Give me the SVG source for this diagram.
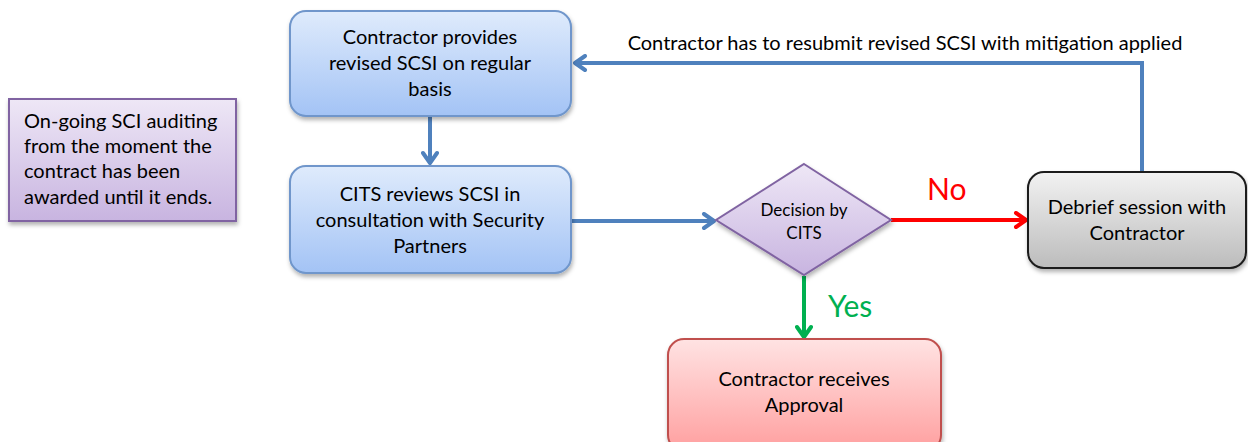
<svg xmlns="http://www.w3.org/2000/svg" width="1248" height="442" viewBox="0 0 1248 442">
<defs>
<linearGradient id="gBlue" x1="0" y1="0" x2="0" y2="1"><stop offset="0" stop-color="#dfebfc"/><stop offset="1" stop-color="#a3c3f5"/></linearGradient>
<linearGradient id="gPurple" x1="0" y1="0" x2="0" y2="1"><stop offset="0" stop-color="#eee7f6"/><stop offset="1" stop-color="#c8b4e0"/></linearGradient>
<linearGradient id="gGray" x1="0" y1="0" x2="0" y2="1"><stop offset="0" stop-color="#f2f2f2"/><stop offset="1" stop-color="#bcbcbc"/></linearGradient>
<linearGradient id="gRed" x1="0" y1="0" x2="0" y2="1"><stop offset="0" stop-color="#ffe3e3"/><stop offset="1" stop-color="#ff9f9f"/></linearGradient>
<filter id="sh" x="-10%" y="-10%" width="130%" height="140%"><feDropShadow dx="1" dy="3" stdDeviation="2" flood-color="#000" flood-opacity="0.3"/></filter>
<marker id="aBlue" markerUnits="userSpaceOnUse" markerWidth="18" markerHeight="18" refX="13" refY="9" orient="auto"><path d="M3,2 L13,9 L3,16" fill="none" stroke="#4f81bd" stroke-width="4" stroke-linecap="round" stroke-linejoin="round"/></marker>
<marker id="aRed" markerUnits="userSpaceOnUse" markerWidth="18" markerHeight="18" refX="13" refY="9" orient="auto"><path d="M3,2 L13,9 L3,16" fill="none" stroke="#ff0000" stroke-width="4" stroke-linecap="round" stroke-linejoin="round"/></marker>
<marker id="aGreen" markerUnits="userSpaceOnUse" markerWidth="18" markerHeight="18" refX="13" refY="9" orient="auto"><path d="M3,2 L13,9 L3,16" fill="none" stroke="#00b050" stroke-width="4" stroke-linecap="round" stroke-linejoin="round"/></marker>
<style>
text{font-family:Lato,"Liberation Sans",sans-serif;font-size:20px;fill:#000}
.c{text-anchor:middle}
.blue{fill:url(#gBlue);stroke:#6f96cb;stroke-width:2}
.purple{fill:url(#gPurple);stroke:#8064a2;stroke-width:2}
.gray{fill:url(#gGray);stroke:#1a1a1a;stroke-width:2}
.red{fill:url(#gRed);stroke:#c0504d;stroke-width:2}
.conn{fill:none;stroke-width:4}
</style>
</defs>

<g id="connectors">
<path class="conn" stroke="#4f81bd" d="M430,117 L430,163" marker-end="url(#aBlue)"/>
<path class="conn" stroke="#4f81bd" d="M572,221 L714,221" marker-end="url(#aBlue)"/>
<path class="conn" stroke="#ff0000" d="M891,220 L1026,220" marker-end="url(#aRed)"/>
<path class="conn" stroke="#00b050" d="M804,276 L804,337" marker-end="url(#aGreen)"/>
<path class="conn" stroke="#4f81bd" d="M1142,172 L1142,63 L575,63" marker-end="url(#aBlue)"/>
<text x="905" y="50" class="c">Contractor has to resubmit revised SCSI with mitigation applied</text>
<text x="927" y="200" style="font-size:30px;fill:#ff0000">No</text>
<text x="828" y="317" style="font-size:30px;fill:#00b050">Yes</text>
</g>

<g id="n-provides">
<rect class="blue" x="290" y="11" width="281" height="105" rx="16" filter="url(#sh)"/>
<text x="430" y="44" class="c">Contractor provides</text>
<text x="430" y="70" class="c">revised SCSI on regular</text>
<text x="430" y="96" class="c">basis</text>
</g>

<g id="n-reviews">
<rect class="blue" x="290" y="166" width="281" height="107" rx="16" filter="url(#sh)"/>
<text x="430" y="201" class="c">CITS reviews SCSI in</text>
<text x="430" y="227" class="c">consultation with Security</text>
<text x="430" y="253" class="c">Partners</text>
</g>

<g id="n-auditing">
<rect class="purple" x="9" y="99" width="227" height="122" filter="url(#sh)"/>
<text x="24" y="128">On-going SCI auditing</text>
<text x="24" y="153">from the moment the</text>
<text x="24" y="178">contract has been</text>
<text x="24" y="204">awarded until it ends.</text>
</g>

<g id="n-decision">
<polygon class="purple" points="804,164 891,220 804,275 716,220" filter="url(#sh)"/>
<text x="804" y="216" class="c" style="font-size:17px">Decision by</text>
<text x="804" y="239" class="c" style="font-size:17px">CITS</text>
</g>

<g id="n-debrief">
<rect class="gray" x="1028" y="172" width="218" height="96" rx="16" filter="url(#sh)"/>
<text x="1137" y="214" class="c">Debrief session with</text>
<text x="1137" y="240" class="c">Contractor</text>
</g>

<g id="n-approval">
<rect class="red" x="668" y="339" width="273" height="112" rx="16" filter="url(#sh)"/>
<text x="804" y="386" class="c">Contractor receives</text>
<text x="804" y="412" class="c">Approval</text>
</g>
</svg>
